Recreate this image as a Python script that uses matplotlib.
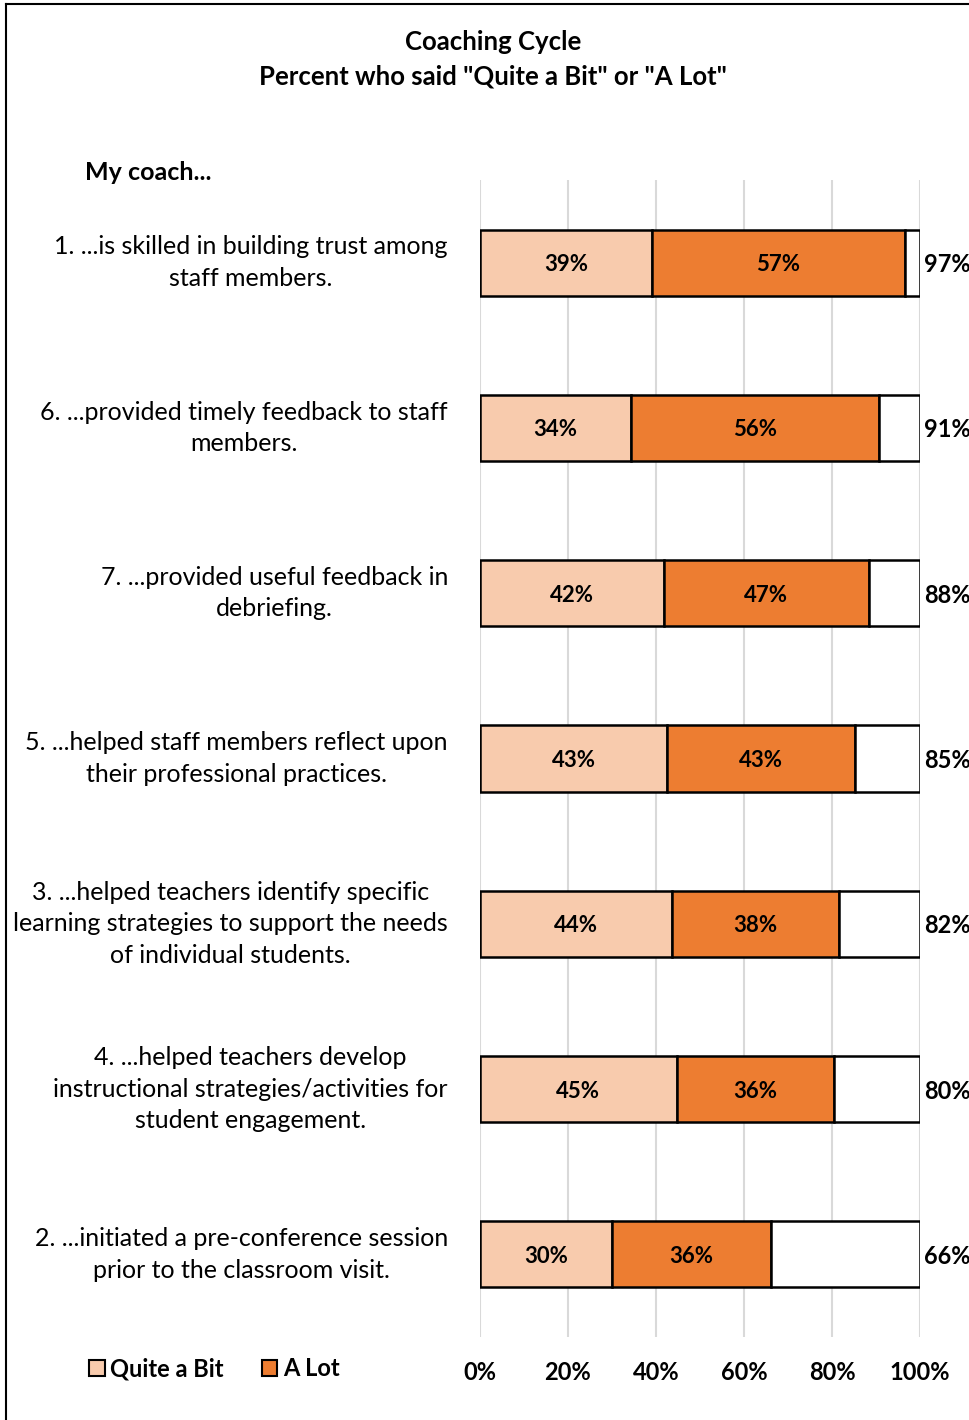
import numpy as np
import matplotlib
matplotlib.use('Agg')
import matplotlib.pyplot as plt
from matplotlib.patches import Patch
from matplotlib.lines import Line2D

plt.rcParams['font.family'] = ['Lato', 'DejaVu Sans']

# items, top to bottom as they appear in the chart
items = [
    "1. ...is skilled in building trust among\nstaff members.",
    "6. ...provided timely feedback to staff\nmembers.",
    "7. ...provided useful feedback in\ndebriefing.",
    "5. ...helped staff members reflect upon\ntheir professional practices.",
    "3. ...helped teachers identify specific\nlearning strategies to support the needs\nof individual students.",
    "4. ...helped teachers develop\ninstructional strategies/activities for\nstudent engagement.",
    "2. ...initiated a pre-conference session\nprior to the classroom visit.",
]
# percent answering each option (estimated unrounded from bar lengths)
quite_a_bit = [39.1, 34.4, 41.8, 42.6, 43.7, 44.7, 30.0]
a_lot = [57.45, 56.3, 46.6, 42.6, 37.9, 35.7, 36.1]
x_ticks = [0, 20, 40, 60, 80, 100]

PEACH = '#F8CBAD'
ORANGE = '#ED7D31'
GRID = '#D9D9D9'

fig = plt.figure(figsize=(9.7, 14.2), dpi=100)
ax = fig.add_axes([480 / 970, 1 - 1337 / 1420, 440 / 970, 1157 / 1420])

y = np.arange(len(items))
q = np.array(quite_a_bit)
a = np.array(a_lot)
total = q + a
rest = 100 - total

bh = 0.4
lw = 1.8
ax.barh(y, q, height=bh, color=PEACH, edgecolor='black', linewidth=lw, zorder=3)
ax.barh(y, a, left=q, height=bh, color=ORANGE, edgecolor='black', linewidth=lw, zorder=3)
ax.barh(y, rest, left=total, height=bh, color='white', edgecolor='black', linewidth=lw, zorder=3)

for i in range(len(items)):
    ax.text(q[i] / 2, y[i], f"{q[i]:.0f}%", ha='center', va='center_baseline',
            fontsize=16, fontweight='bold', zorder=4)
    ax.text(q[i] + a[i] / 2, y[i], f"{a[i]:.0f}%", ha='center', va='center_baseline',
            fontsize=16, fontweight='bold', zorder=4)
    ax.text(100.9, y[i], f"{total[i]:.0f}%", ha='left', va='center_baseline',
            fontsize=17, fontweight='bold', clip_on=False)
    # question text, right edge at ~448px
    ax.text(-7.3, y[i], items[i], ha='right', va='center', multialignment='center',
            fontsize=18, linespacing=1.45, clip_on=False)

ax.set_xlim(0, 100)
ax.set_ylim(len(items) - 0.5, -0.5)
ax.set_xticks(x_ticks)
ax.set_xticklabels([f"{t}%" for t in x_ticks], fontsize=17, fontweight='bold')
ax.tick_params(axis='x', length=0, pad=17)
ax.set_yticks([])
ax.grid(axis='x', color=GRID, linewidth=1.5, zorder=0)
for s in ax.spines.values():
    s.set_visible(False)

fig.text(493 / 970, 1 - 42 / 1420, 'Coaching Cycle', ha='center', va='center',
         fontsize=18.5, fontweight='bold')
fig.text(493 / 970, 1 - 76 / 1420, 'Percent who said "Quite a Bit" or "A Lot"',
         ha='center', va='center', fontsize=18.5, fontweight='bold')
fig.text(85 / 970, 1 - 172 / 1420, 'My coach...', ha='left', va='center',
         fontsize=18, fontweight='bold')

handles = [Patch(facecolor=PEACH, edgecolor='black', linewidth=1.5),
           Patch(facecolor=ORANGE, edgecolor='black', linewidth=1.5)]
fig.legend(handles, ['Quite a Bit', 'A Lot'], loc='center left',
           bbox_to_anchor=(68 / 970, 1 - 1369 / 1420), ncol=2, frameon=False,
           handlelength=0.65, handleheight=0.65, handletextpad=0.25,
           columnspacing=1.6, prop={'size': 17, 'weight': 'bold'})

# outer chart border (partly cropped in the original)
fig.add_artist(Line2D([6 / 970, 1], [1 - 4 / 1420, 1 - 4 / 1420], color='black',
                      linewidth=1.5, transform=fig.transFigure))
fig.add_artist(Line2D([6 / 970, 6 / 970], [0, 1 - 4 / 1420], color='black',
                      linewidth=1.5, transform=fig.transFigure))

fig.savefig('out.png', dpi=100)
